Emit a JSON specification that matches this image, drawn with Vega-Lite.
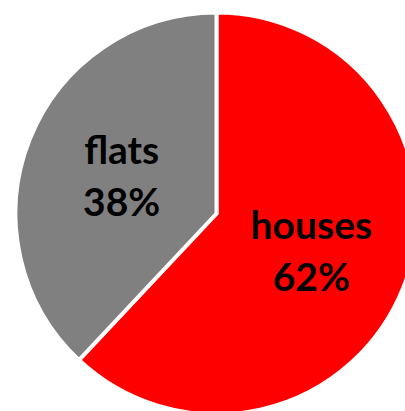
{
  "$schema": "https://vega.github.io/schema/vega-lite/v6.json",
  "width": 405,
  "height": 411,
  "autosize": "none",
  "padding": {"left": 14, "top": 8, "right": -14, "bottom": -8},
  "background": "white",
  "data": {"values": [
    {"category": "houses", "value": 62, "order": 1, "label": "houses\n62%"},
    {"category": "flats", "value": 38, "order": 2, "label": "flats\n38%"}
  ]},
  "encoding": {
    "theta": {"field": "value", "type": "quantitative", "stack": true},
    "order": {"field": "order", "type": "quantitative"}
  },
  "layer": [
    {
      "mark": {"type": "arc", "outerRadius": 201, "stroke": "white", "strokeWidth": 4},
      "encoding": {
        "color": {"field": "category", "type": "nominal", "scale": {"domain": ["houses", "flats"], "range": ["#FF0000", "#808080"]}, "legend": null}
      }
    },
    {
      "mark": {"type": "text", "radius": 102, "dy": -24, "font": "Lato", "fontWeight": "bold", "fontSize": 39, "lineBreak": "\n", "lineHeight": 52, "baseline": "middle", "align": "center", "color": "black"},
      "encoding": {
        "text": {"field": "label", "type": "nominal"}
      }
    }
  ],
  "config": {"view": {"stroke": null}}
}
